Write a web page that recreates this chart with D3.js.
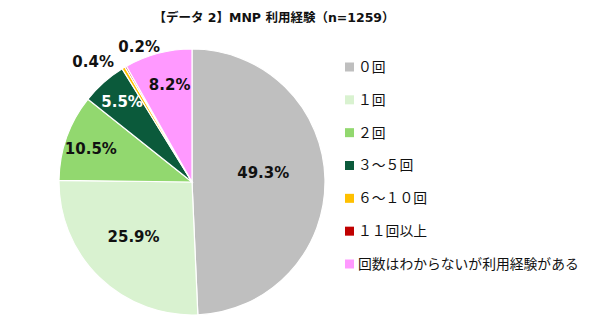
<!DOCTYPE html>
<html>
<head>
<meta charset="utf-8">
<script src="https://cdn.jsdelivr.net/npm/d3@7"></script>
<style>
  html, body { margin: 0; padding: 0; background: #fff; }
  svg { display: block; }
</style>
</head>
<body>
<svg id="chart" width="590" height="328"></svg>
<script>
// MNP usage experience survey (n=1259)
const categories = ["０回", "１回", "２回", "３～５回", "６～１０回", "１１回以上", "回数はわからないが利用経験がある"];
const shares = [49.3, 25.9, 10.5, 5.5, 0.4, 0.2, 8.2];
const sliceColors = ["#BFBFBF", "#D9F2D0", "#92D86F", "#0B5A3B", "#FFC000", "#C00000", "#FF99FF"];
const labelColors = ["#111", "#111", "#111", "#fff", "#111", "#111", "#111"];
const titleText = "【データ 2】MNP 利用経験（n=1259）";

// label placement per slice: radius as a fraction of the pie radius, plus angular shift in degrees
const labelRadius = [0.54, 0.60, 0.80, 0.80, 1.17, 1.09, 0.75];
const labelShift = [-6, 3, -1.5, 0.5, -8.5, 8.5, 1.8];

const svg = d3.select("#chart");
const cx = 192, cy = 182, R = 133;

svg.append("text")
  .attr("x", 274).attr("y", 22)
  .attr("text-anchor", "middle")
  .attr("font-family", "'DejaVu Sans', 'Noto Sans CJK JP', sans-serif")
  .attr("font-weight", "bold")
  .attr("font-size", 12.5)
  .attr("fill", "#111")
  .text(titleText);

const pie = d3.pie().sort(null).value(d => d)(shares);
const arc = d3.arc().innerRadius(0).outerRadius(R);

const g = svg.append("g").attr("transform", `translate(${cx},${cy})`);

g.selectAll("path.slice")
  .data(pie)
  .join("path")
  .attr("class", "slice")
  .attr("d", arc)
  .attr("fill", (d, i) => sliceColors[i])
  .attr("stroke", "#fff")
  .attr("stroke-width", 1.2);

g.selectAll("text.val")
  .data(pie)
  .join("text")
  .attr("class", "val")
  .attr("transform", (d, i) => {
    const a = (d.startAngle + d.endAngle) / 2 + labelShift[i] * Math.PI / 180;
    const r = R * labelRadius[i];
    return `translate(${r * Math.sin(a)},${-r * Math.cos(a)})`;
  })
  .attr("text-anchor", "middle")
  .attr("dy", "0.36em")
  .attr("font-family", "'DejaVu Sans', Verdana, sans-serif")
  .attr("font-weight", "bold")
  .attr("font-size", 15)
  .attr("fill", (d, i) => labelColors[i])
  .text(d => d3.format(".1f")(d.data) + "%");

// legend
const legend = svg.append("g");
const rowY = d3.scalePoint().domain(d3.range(categories.length)).range([67, 264]);
const items = legend.selectAll("g").data(categories).join("g")
  .attr("transform", (d, i) => `translate(345,${rowY(i)})`);
items.append("rect")
  .attr("x", 0).attr("y", -4.5).attr("width", 9).attr("height", 9)
  .attr("fill", (d, i) => sliceColors[i]);
items.append("text")
  .attr("x", 13).attr("dy", "0.36em")
  .attr("font-family", "'Noto Sans CJK JP', sans-serif")
  .attr("font-size", 13.8)
  .attr("fill", "#111")
  .text(d => d);
</script>
</body>
</html>
